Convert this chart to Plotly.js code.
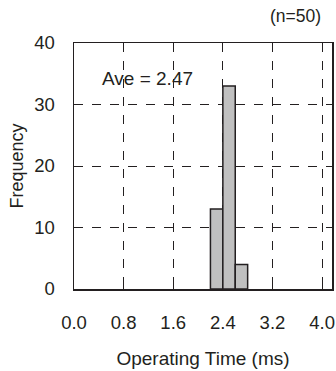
<!DOCTYPE html>
<html>
<head>
<meta charset="utf-8">
<script src="https://cdn.plot.ly/plotly-3.0.1.min.js"></script>
<style>html,body{margin:0;padding:0;background:#fff;}#chart{width:336px;height:371px;}</style>
</head>
<body>
<div id="chart"></div>
<script>
// Histogram bins (ms) and counts
const binCenters = [2.3, 2.5, 2.7];
const binWidth = 0.2;
const counts = [13, 33, 4];
const xTicks = [0.0, 0.8, 1.6, 2.4, 3.2, 4.0];
const xTickLabels = ["0.0", "0.8", "1.6", "2.4", "3.2", "4.0"];
const yTicks = [0, 10, 20, 30, 40];
const aveLabel = "Ave = 2.47";
const nLabel = "(n=50)";

const fontFam = "Liberation Sans, Arial, Helvetica, sans-serif";
const txt = "#231f20";

const data = [{
  type: "bar",
  x: binCenters,
  y: counts,
  width: binCenters.map(() => binWidth),
  marker: {color: "#c0c0c0", line: {color: "#231f20", width: 1.5}},
  hoverinfo: "skip"
}];

const layout = {
  width: 336, height: 371,
  margin: {l: 73.5, r: 4, t: 42.5, b: 81.7, pad: 0},
  paper_bgcolor: "#fff", plot_bgcolor: "#fff",
  showlegend: false,
  font: {family: fontFam, size: 18, color: txt},
  xaxis: {
    range: [0, 4.16],
    tickvals: xTicks, ticktext: xTickLabels,
    ticks: "inside", ticklen: 5, tickcolor: txt, tickwidth: 1,
    showline: true, linecolor: txt, linewidth: 1.5, mirror: true,
    showgrid: true, gridcolor: txt, griddash: "dash", gridwidth: 1,
    zeroline: false,
    ticklabelstandoff: 16,
    tickfont: {size: 18.5, color: txt},
    title: {text: "Operating Time (ms)", font: {size: 19, color: txt}, standoff: 20},
    fixedrange: true
  },
  yaxis: {
    range: [0, 40],
    tickvals: yTicks,
    ticks: "inside", ticklen: 5, tickcolor: txt, tickwidth: 1,
    showline: true, linecolor: txt, linewidth: 1.5, mirror: true,
    showgrid: true, gridcolor: txt, griddash: "dash", gridwidth: 1,
    zeroline: false,
    ticklabelstandoff: 14,
    tickfont: {size: 18.5, color: txt},
    title: {text: "Frequency", font: {size: 18, color: txt}, standoff: 6},
    fixedrange: true
  },
  annotations: [
    {text: aveLabel, x: 1.19, y: 34.3, xref: "x", yref: "y", showarrow: false,
     font: {size: 19, color: txt}, xanchor: "center", yanchor: "middle"},
    {text: nLabel, x: 0, y: 0, xref: "paper", yref: "paper", showarrow: false,
     font: {size: 17.5, color: txt}, xanchor: "right", yanchor: "middle"}
  ]
};
// place (n=50) in pixel terms via paper coords
layout.annotations[1].x = (323 - 73.5) / (336 - 73.5 - 4);
layout.annotations[1].y = 1 + (42.5 - 15) / (371 - 42.5 - 81.7);

Plotly.newPlot("chart", data, layout, {staticPlot: true, displayModeBar: false});
</script>
</body>
</html>
